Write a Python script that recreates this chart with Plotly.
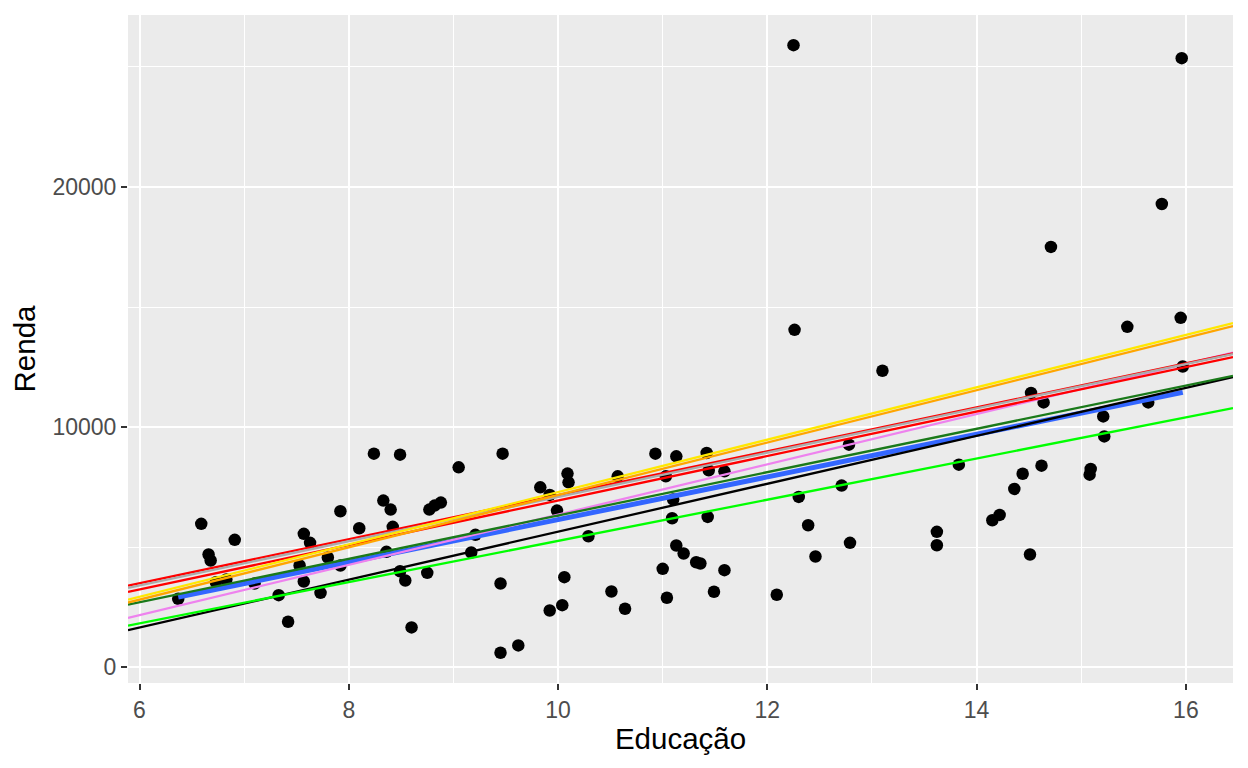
import plotly.graph_objects as go

# pontos (Educação, Renda)
educ = [6.37, 6.59, 6.66, 6.68, 6.73, 6.83, 6.91, 7.10, 7.33, 7.42,
        7.53, 7.57, 7.63, 7.57, 7.73, 7.80, 7.92, 7.92, 8.10, 8.24,
        8.49, 8.33, 8.40, 8.42, 8.36, 8.49, 8.54, 8.60, 8.77, 8.82,
        8.88, 8.75, 9.05, 9.21, 9.17, 9.47, 9.45, 9.45, 9.62, 9.83,
        9.92, 9.99, 10.09, 10.10, 9.92, 10.04, 10.06, 10.29, 10.51, 10.64,
        10.57, 10.93, 11.13, 11.03, 11.10, 11.09, 11.13, 11.20, 11.32, 11.36,
        11.00, 11.04, 11.42, 11.44, 11.43, 11.49, 11.59, 11.59, 12.09, 12.25,
        12.26, 12.30, 12.39, 12.46, 12.71, 12.78, 12.79, 13.10, 13.62, 13.62,
        13.83, 14.15, 14.22, 14.36, 14.44, 14.51, 14.52, 14.62, 14.64, 14.71,
        15.08, 15.09, 15.21, 15.22, 15.44, 15.64, 15.77, 15.95, 15.96, 15.97]
renda = [2856, 5975, 4699, 4449, 3547, 3659, 5310, 3493, 3006, 1900,
         4241, 5559, 5185, 3576, 3105, 4574, 4241, 6500, 5792, 8898,
         8857, 6944, 6570, 5850, 4811, 4004, 3617, 1663, 6570, 6736,
         6860, 3937, 8329, 5518, 4782, 8898, 3493, 611, 915, 7497,
         7181, 6528, 8067, 7705, 2370, 2591, 3755, 5459, 3160, 2441,
         7954, 8898, 8786, 7954, 6985, 6208, 5073, 4740, 4378, 4324,
         4104, 2898, 8927, 8204, 6266, 3148, 4046, 8162, 3023, 25904,
         14054, 7098, 5917, 4616, 7568, 9272, 5185, 12349, 5642, 5085,
         8441, 6125, 6349, 7430, 8060, 4699, 11422, 8399, 11031, 17505,
         8025, 8262, 10449, 9617, 14179, 11031, 19293, 14553, 25364, 12528]

# retas (intercepto, inclinação, cor)
line_colors = ["black", "#00FF00", "violet", "#1A7A1A", "red", "red", "#ABABAB", "orange", "#FFE800"]
intercepts = [-4331, -3310, -4104, -2697, -2313, -1984, -2122, -3720, -3600]
slopes = [998, 857.6, 1046.4, 902, 926, 915, 922, 1090, 1090]

# reta do geom_smooth (lm)
smooth_b0 = -2722
smooth_b1 = 887.4

X_RANGE = [5.89, 16.45]
Y_RANGE = [-650, 27160]

fig = go.Figure()

fig.add_trace(go.Scatter(x=educ, y=renda, mode="markers",
                         marker=dict(color="black", size=12.5, line=dict(width=0))))

sx = [min(educ), max(educ)]
fig.add_trace(go.Scatter(x=sx, y=[smooth_b0 + smooth_b1 * v for v in sx], mode="lines",
                         line=dict(color="#3366FF", width=5)))

for b0, b1, c in zip(intercepts, slopes, line_colors):
    fig.add_trace(go.Scatter(x=X_RANGE, y=[b0 + b1 * v for v in X_RANGE], mode="lines",
                             line=dict(color=c, width=2.3)))

axis_font = dict(family="Liberation Sans, Arial, sans-serif", size=23, color="#4D4D4D")
title_font = dict(family="Liberation Sans, Arial, sans-serif", size=29.5, color="black")

# a página tem margem de 8px no body
fig.update_layout(
    width=1232, height=752,
    showlegend=False,
    paper_bgcolor="white",
    plot_bgcolor="#EBEBEB",
    margin=dict(l=120, r=7, t=7, b=77),
    xaxis=dict(
        range=X_RANGE, tick0=6, dtick=2,
        showgrid=True, gridcolor="white", gridwidth=2.2,
        minor=dict(dtick=1, showgrid=True, gridcolor="white", gridwidth=1.1),
        zeroline=False, ticks="outside", ticklen=6, tickcolor="#333333", tickwidth=2,
        tickfont=axis_font,
        title=dict(text="Educação", font=title_font, standoff=6),
    ),
    yaxis=dict(
        range=Y_RANGE, tick0=0, dtick=10000, tickformat="d",
        showgrid=True, gridcolor="white", gridwidth=2.2,
        minor=dict(dtick=5000, showgrid=True, gridcolor="white", gridwidth=1.1),
        zeroline=False, ticks="outside", ticklen=6, tickcolor="#333333", tickwidth=2,
        tickfont=axis_font,
        title=dict(text="Renda", font=title_font, standoff=10),
    ),
)

fig.write_html("out.html")
